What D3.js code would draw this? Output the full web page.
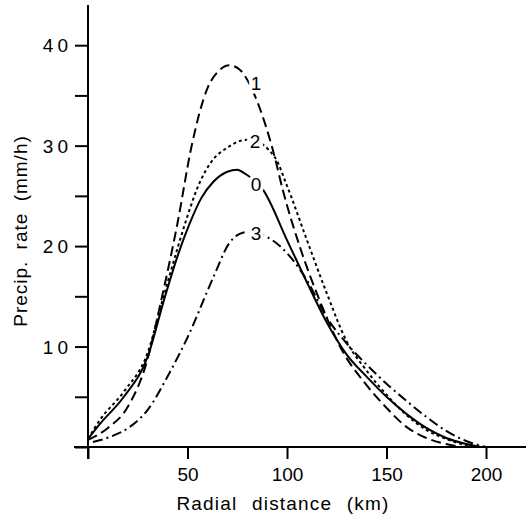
<!DOCTYPE html>
<html>
<head>
<meta charset="utf-8">
<script src="https://cdn.jsdelivr.net/npm/d3@7"></script>
<style>
  body { margin: 0; background: #fff; }
  svg { display: block; }
  text { font-family: "Liberation Sans", "DejaVu Sans", sans-serif; fill: #000; }
</style>
</head>
<body>
<div id="chart"></div>
<script>
// series: radial distance (km) and precipitation rate (mm/h)
const km0 = [0, 6, 18, 30, 38, 45, 51, 57, 63, 70, 75, 79, 88, 100, 110, 120, 130, 140, 150, 160, 170, 180, 190, 197];
const rate0 = [0.8, 2.3, 5.0, 9.0, 14.5, 19.0, 22.2, 24.8, 26.4, 27.4, 27.6, 27.2, 25.6, 20.6, 16.4, 12.4, 9.2, 7.0, 5.0, 3.3, 1.9, 0.9, 0.3, 0];

const km1 = [0, 10, 20, 30, 36, 45, 52, 60, 66, 71, 76, 82, 85.4, 93, 98, 106.5, 116.6, 128, 139, 150, 160, 170, 180, 188];
const rate1 = [0.7, 1.9, 4.0, 8.8, 13.9, 22.3, 29.9, 35.7, 37.5, 38.0, 37.6, 35.8, 34.2, 29.5, 25.5, 19.9, 14.5, 9.5, 6.4, 3.9, 2.0, 0.9, 0.3, 0];

const km2 = [0, 6, 18, 30, 38, 45, 50, 55, 62, 70, 77, 81, 94, 100, 110, 120, 130, 140, 150, 160, 170, 180, 190, 198];
const rate2 = [0.8, 2.7, 5.5, 9.4, 15.0, 19.8, 23.0, 25.8, 28.4, 29.8, 30.5, 30.6, 28.8, 26.0, 20.6, 15.3, 10.5, 7.6, 5.2, 3.2, 1.7, 0.8, 0.2, 0];

const km3 = [2.5, 11, 21, 30, 41, 50, 63, 71, 76, 80, 90, 103, 110, 120, 130, 140, 150, 160, 170, 180, 190, 200];
const rate3 = [0.5, 1.0, 2.0, 3.7, 7.4, 10.9, 16.9, 20.3, 21.2, 21.4, 20.9, 18.6, 16.6, 12.9, 10.3, 8.2, 6.3, 4.6, 3.0, 1.6, 0.6, 0];

const curveNames = ['0', '1', '2', '3'];
// where each curve's number is written (km, mm/h)
const labelKm = [84.4, 84.4, 84, 84.4];
const labelRate = [26.1, 36.2, 30.4, 21.3];

const xTicks = [0, 50, 100, 150, 200];
const yTicks = [0, 5, 10, 15, 20, 25, 30, 35, 40];
const yLabelled = [10, 20, 30, 40];

const width = 528, height = 525;
const margin = { left: 88, top: 5, bottom: 78 };

const svg = d3.select('#chart').append('svg')
  .attr('width', width)
  .attr('height', height);

const x = d3.scaleLinear().domain([0, 220]).range([margin.left, margin.left + 220 * 1.99]);
const y = d3.scaleLinear().domain([0, 44]).range([height - margin.bottom, margin.top]);

const series = [
  { km: km0, rate: rate0, dash: null },
  { km: km1, rate: rate1, dash: '10,5' },
  { km: km2, rate: rate2, dash: '3,3' },
  { km: km3, rate: rate3, dash: '10,4,2,4' }
];

const line = d3.line()
  .x(d => x(d[0]))
  .y(d => y(d[1]))
  .curve(d3.curveMonotoneX);

svg.append('g').selectAll('path')
  .data(series)
  .enter()
  .append('path')
  .attr('d', s => line(s.km.map((k, i) => [k, s.rate[i]])))
  .attr('fill', 'none')
  .attr('stroke', '#000')
  .attr('stroke-width', 2)
  .attr('stroke-dasharray', s => s.dash);

// axes
const xAxis = d3.axisBottom(x)
  .tickValues(xTicks)
  .tickSize(12)
  .tickFormat(d => (d === 0 ? '' : d));
const gx = svg.append('g')
  .attr('transform', `translate(0,${y(0)})`)
  .call(xAxis);
gx.select('.domain').remove();
gx.selectAll('.tick line').attr('stroke', '#000').attr('stroke-width', 2);
gx.selectAll('.tick text')
  .attr('y', 34)
  .attr('dy', 0)
  .style('font-size', '19px');

const yAxis = d3.axisLeft(y)
  .tickValues(yTicks)
  .tickSize(13)
  .tickFormat(d => (yLabelled.includes(d) ? d : ''));
const gy = svg.append('g')
  .attr('transform', `translate(${x(0)},0)`)
  .call(yAxis);
gy.select('.domain').remove();
gy.selectAll('.tick line').attr('stroke', '#000').attr('stroke-width', 2);
gy.selectAll('.tick text')
  .attr('x', -16)
  .attr('dy', '0.35em')
  .style('font-size', '19px')
  .style('letter-spacing', '4px');

// axis lines
svg.append('line')
  .attr('x1', x(0) - 14).attr('x2', width - 2)
  .attr('y1', y(0)).attr('y2', y(0))
  .attr('stroke', '#000').attr('stroke-width', 2);
svg.append('line')
  .attr('x1', x(0)).attr('x2', x(0))
  .attr('y1', y(0) + 12).attr('y2', margin.top)
  .attr('stroke', '#000').attr('stroke-width', 2);

// curve numbers, with a white halo that breaks the line
svg.append('g').selectAll('text')
  .data(curveNames)
  .enter()
  .append('text')
  .attr('x', (d, i) => x(labelKm[i]))
  .attr('y', (d, i) => y(labelRate[i]))
  .attr('dy', '0.35em')
  .attr('text-anchor', 'middle')
  .style('font-size', '19px')
  .style('paint-order', 'stroke')
  .style('stroke', '#fff')
  .style('stroke-width', 7)
  .text(d => d);

// axis titles
svg.append('text')
  .attr('x', 283)
  .attr('y', 510)
  .attr('text-anchor', 'middle')
  .style('font-size', '19px')
  .style('letter-spacing', '1.2px')
  .style('word-spacing', '8px')
  .text('Radial distance (km)');

svg.append('text')
  .attr('transform', 'translate(27,231) rotate(-90)')
  .attr('text-anchor', 'middle')
  .style('font-size', '19px')
  .style('letter-spacing', '1px')
  .style('word-spacing', '5px')
  .text('Precip. rate (mm/h)');
</script>
</body>
</html>
